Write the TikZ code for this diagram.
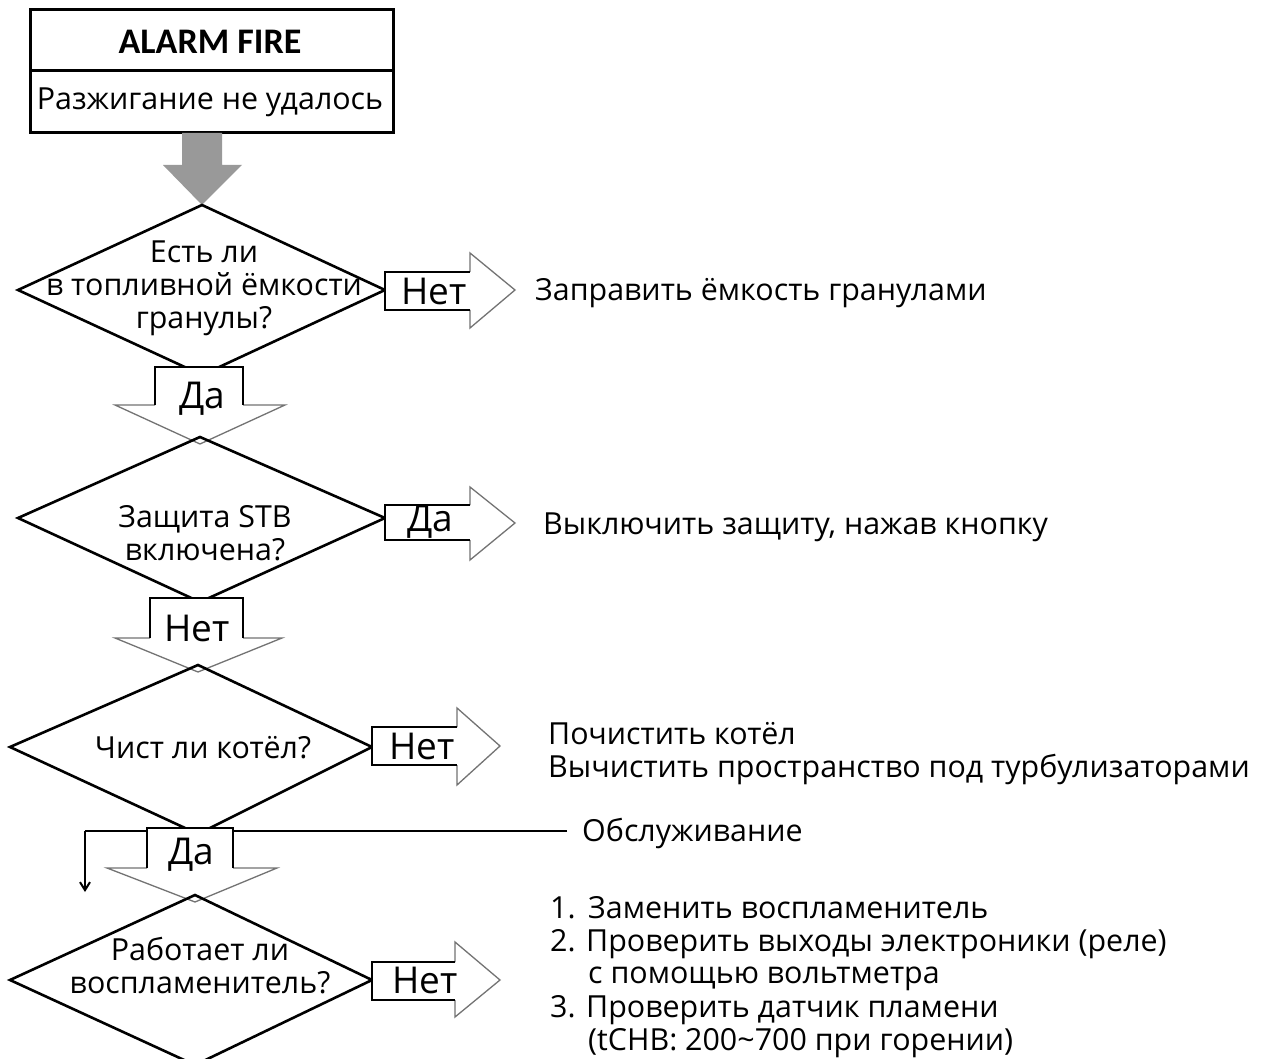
\documentclass[tikz,border=0pt]{standalone}
\usepackage{fontspec}
\usetikzlibrary{arrows.meta}
\setmainfont{Open Sans}
\newfontfamily\alarmfont{Carlito}
\tikzset{
  dia/.style={line width=2.6pt, line join=miter},
  frame/.style={line width=3pt},
  bodyline/.style={line width=2pt, black},
  headline/.style={line width=1.3pt, black!55},
  txt/.style={inner sep=0pt, font=\fontsize{30.4}{33}\selectfont},
  rtxt/.style={txt, anchor=west, text height=21.5pt, text depth=0pt},
  lab/.style={inner sep=0pt, font=\fontsize{37}{40}\selectfont},
}
% down block arrow: x1 x2 ytop ywing hx1 hx2 tipx tipy
\newcommand\dnarrow[8]{%
  \fill[white] (#1,#3)--(#2,#3)--(#2,#4)--(#6,#4)--(#7,#8)--(#5,#4)--(#1,#4)--cycle;
  \draw[headline] (#1,#4)--(#5,#4)--(#7,#8)--(#6,#4)--(#2,#4);
  \draw[bodyline] (#1,#4)--(#1,#3)--(#2,#3)--(#2,#4);
}
% right block arrow: x1 x2 ytop ybot hy1 hy2 tipx tipy
\newcommand\rtarrow[8]{%
  \fill[white] (#1,#3)--(#2,#3)--(#2,#5)--(#7,#8)--(#2,#6)--(#2,#4)--(#1,#4)--cycle;
  \draw[headline] (#2,#3)--(#2,#5)--(#7,#8)--(#2,#6)--(#2,#4);
  \draw[bodyline] (#2,#3)--(#1,#3)--(#1,#4)--(#2,#4);
}
\begin{document}
\begin{tikzpicture}[x=1pt,y=-1pt]
\useasboundingbox (0,0) rectangle (1270,1059);
\fill[white] (0,0) rectangle (1270,1059);

% top box
\draw[frame] (30,10) rectangle (393,133);
\draw[frame] (30,71) -- (393,71);
\node[inner sep=0pt, font=\alarmfont\bfseries\fontsize{36}{38}\selectfont] (alarm) at (210,42) {ALARM FIRE};
\node[txt] (fail) at (210,102) {Разжигание не удалось};

% grey arrow
\fill[black!40] (182,133)--(222,133)--(222,165)--(242,165)--(202,205)--(163,165)--(182,165)--cycle;

% diamond 1
\draw[dia] (202,205)--(385,290)--(202,375)--(18,290)--cycle;
\node[txt, align=center] (q1) at (204,288) {Есть ли\\в топливной ёмкости\\гранулы?};
\rtarrow{385}{470}{272}{310}{253}{328}{515}{290}
\node[lab] (n1) at (434,291) {Нет};
\node[rtxt] (a1) at (535,290) {Заправить ёмкость гранулами};

\dnarrow{155}{243}{367}{405}{115}{285}{200}{444}
\node[lab] (y1) at (202,399) {Да};

% diamond 2
\draw[dia] (200,437)--(385,518)--(200,602)--(18,518)--cycle;
\node[txt, align=center] (q2) at (205,533) {Защита STB\\включена?};
\rtarrow{385}{470}{505}{540}{487}{560}{515}{523}
\node[lab] (y2) at (430,522) {Да};
\node[rtxt] (a2) at (543,524) {Выключить защиту, нажав кнопку};

\dnarrow{150}{243}{598}{638}{115}{282}{198}{672}
\node[lab] (n2) at (197,628) {Нет};

% diamond 3
\draw[dia] (198,665)--(372,747)--(198,834)--(10,747)--cycle;
\node[txt] (q3) at (203,748) {Чист ли котёл?};
\rtarrow{372}{457}{727}{765}{708}{785}{500}{746}
\node[lab] (n3) at (422,746) {Нет};
\node[rtxt] (a3) at (548,734) {Почистить котёл};
\node[rtxt] (a3b) at (548,767) {Вычистить пространство под турбулизаторами};

% service line
\node[rtxt] (obs) at (582,831) {Обслуживание};
\coordinate (corner) at (85,831);
\coordinate (obsend) at (85,892);
\draw[line width=2pt] (obs.west) ++(-15,0) -- (corner);
\draw[line width=2pt, -{Straight Barb[length=8pt,width=10pt]}] (corner) -- (obsend);

\dnarrow{147}{233}{828}{868}{107}{277}{195}{902}
\node[lab] (y3) at (191,855) {Да};

% diamond 4
\draw[dia] (195,895)--(372,980)--(195,1065)--(10,980)--cycle;
\node[txt, align=center] (q4) at (200,966) {Работает ли\\воспламенитель?};
\rtarrow{372}{455}{962}{1000}{942}{1017}{500}{980}
\node[lab] (n4) at (425,980) {Нет};

\node[rtxt] (l1n) at (550,908) {1.};
\node[rtxt] (l1) at (588,908) {Заменить воспламенитель};
\node[rtxt] (l2) at (550,941) {2. Проверить выходы электроники (реле)};
\node[rtxt] (l2b) at (588,973) {с помощью вольтметра};
\node[rtxt] (l3) at (550,1007) {3. Проверить датчик пламени};
\node[rtxt] (l3b) at (588,1040) {(tCHB: 200\textasciitilde700 при горении)};
\end{tikzpicture}
\end{document}
